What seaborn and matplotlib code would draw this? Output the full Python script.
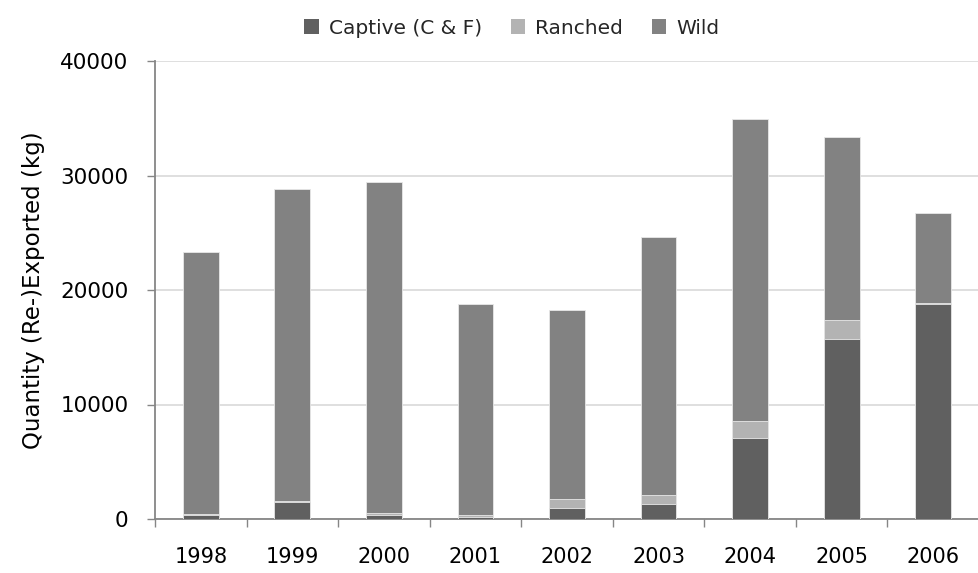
import numpy as np
import pandas as pd
import matplotlib
matplotlib.use("Agg")
import matplotlib.pyplot as plt
from matplotlib.patches import Patch
import seaborn as sns

years = ["1998", "1999", "2000", "2001", "2002", "2003", "2004", "2005", "2006"]
captive = [350, 1500, 350, 200, 1000, 1300, 7050, 15750, 18750]
ranched = [50, 50, 150, 150, 750, 800, 1500, 1650, 150]
wild = [22900, 27300, 28900, 18400, 16500, 22550, 26400, 15950, 7800]
series_names = ["Captive (C & F)", "Ranched", "Wild"]
colors = ["#606060", "#b3b3b3", "#828282"]

sns.set_theme(style="white")
plt.rcParams["font.family"] = ["DejaVu Sans"]

df = pd.DataFrame({"year": years, "captive": captive, "ranched": ranched, "wild": wild})
df["c1"] = df["captive"]
df["c2"] = df["captive"] + df["ranched"]
df["c3"] = df["c2"] + df["wild"]

fig = plt.figure(figsize=(9.79, 5.73), dpi=100)
ax = fig.add_axes([155 / 979, 54 / 573, 824 / 979, 458 / 573])

for col, colr in zip(["c3", "c2", "c1"], colors[::-1]):
    sns.barplot(data=df, x="year", y=col, color=colr, width=0.39, ax=ax,
                saturation=1, edgecolor="#e8e8e8", linewidth=0.6, zorder=3)

ax.set_ylim(0, 40000)
ax.set_xlim(-0.5, len(years) - 0.5)
ax.set_yticks([0, 10000, 20000, 30000, 40000])
ax.yaxis.grid(True, color="#d9d9d9", linewidth=1.2, zorder=0)
ax.set_axisbelow(True)
for s in ["top", "right"]:
    ax.spines[s].set_visible(False)
for s in ["left", "bottom"]:
    ax.spines[s].set_color("#868686")
    ax.spines[s].set_linewidth(1.3)

ax.set_xticks(np.arange(-0.5, len(years) - 0.4, 1.0), minor=True)
ax.tick_params(axis="x", which="major", length=0, pad=20, labelsize=15, labelcolor="black")
ax.tick_params(axis="x", which="minor", length=6, width=1, color="#868686", direction="out", bottom=True)
ax.tick_params(axis="y", length=6, width=1, color="#868686", direction="out", left=True,
               labelsize=15.5, labelcolor="black", pad=13)
ax.set_xlabel("")
ax.set_ylabel("Quantity (Re-)Exported (kg)", fontsize=16.5, color="black")
ax.yaxis.set_label_coords(-0.1335, 0.5)

handles = [Patch(facecolor=c, edgecolor="none") for c in colors]
fig.legend(handles, series_names, loc="center", bbox_to_anchor=(512 / 979, 1 - 28 / 573),
           ncol=3, frameon=False, fontsize=14.5, handlelength=0.7, handleheight=0.7,
           handletextpad=0.5, columnspacing=1.45)

fig.savefig("out.png", dpi=100)
